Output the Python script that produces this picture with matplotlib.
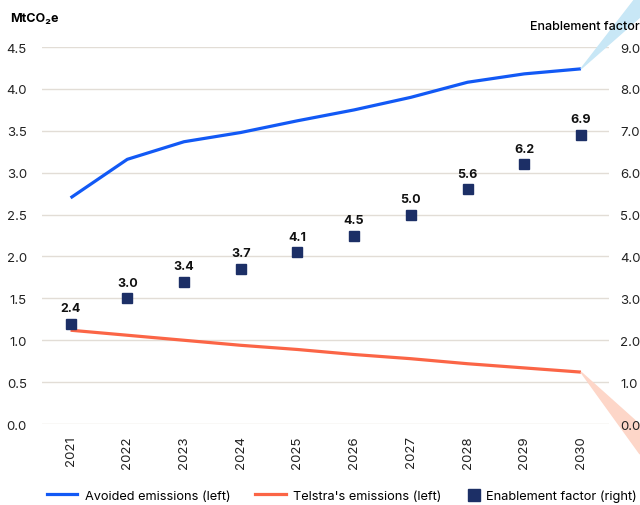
import matplotlib.pyplot as plt
from matplotlib.patches import Polygon
from matplotlib.lines import Line2D

plt.rcParams['font.family'] = ['Inter', 'DejaVu Sans']

years = [2021, 2022, 2023, 2024, 2025, 2026, 2027, 2028, 2029, 2030]
avoided = [2.70, 3.16, 3.37, 3.48, 3.62, 3.75, 3.90, 4.08, 4.18, 4.24]
telstra = [1.12, 1.06, 1.00, 0.94, 0.89, 0.83, 0.78, 0.72, 0.67, 0.62]
enablement = [2.4, 3.0, 3.4, 3.7, 4.1, 4.5, 5.0, 5.6, 6.2, 6.9]

left_ticks = [0.0, 0.5, 1.0, 1.5, 2.0, 2.5, 3.0, 3.5, 4.0, 4.5]
right_ticks = [0.0, 1.0, 2.0, 3.0, 4.0, 5.0, 6.0, 7.0, 8.0, 9.0]

blue = '#1259f5'
orange = '#fb6546'
navy = '#1c2f66'
grid = '#e2ddd6'

fig = plt.figure(figsize=(6.4, 5.06), dpi=100)
ax = fig.add_axes([0.066, 0.160, 0.886, 0.745])
ax2 = ax.twinx()
ax.set_zorder(0)
ax2.set_zorder(2)
ax2.patch.set_visible(False)

ax.set_xlim(2020.5, 2030.5)
ax.set_ylim(0, 4.5)
ax2.set_ylim(0, 9.0)

ax.set_yticks(left_ticks)
ax.set_yticklabels([f'{v:.1f}' for v in left_ticks])
ax2.set_yticks(right_ticks)
ax2.set_yticklabels([f'{v:.1f}' for v in right_ticks])
ax.set_xticks(years)
ax.set_xticklabels([str(y) for y in years], rotation=90)

ax.grid(axis='y', color=grid, lw=1.0)
ax.set_axisbelow(True)
for a in (ax, ax2):
    for s in a.spines.values():
        s.set_visible(False)
    a.tick_params(length=0, labelsize=9.5, colors='#222222')
ax.tick_params(axis='y', pad=11)
ax.tick_params(axis='x', pad=8)
ax2.tick_params(axis='y', pad=8)

# decorative wedges anchored at last points, drawn between the two axes
inv = fig.transFigure.inverted()
W, H = fig.get_size_inches() * fig.dpi
bx, by = inv.transform(ax.transData.transform((years[-1], avoided[-1])))
ox, oy = inv.transform(ax.transData.transform((years[-1], telstra[-1])))
fig.patches.append(Polygon([(bx, by), (635 / W, 1.0), (1.0, 1.0), (1.0, 1 - 18 / H)],
                           closed=True, transform=fig.transFigure, color='#c8e7f6', zorder=1))
fig.patches.append(Polygon([(ox, oy), (1.0, 1 - 426 / H), (1.0, 1 - 455 / H)],
                           closed=True, transform=fig.transFigure, color='#fdd6c8', zorder=1))

ax.plot(years, avoided, color=blue, lw=2.3, solid_capstyle='butt', zorder=3)
ax.plot(years, telstra, color=orange, lw=2.3, solid_capstyle='butt', zorder=3)
ax2.plot(years, enablement, ls='none', marker='s', ms=7, color=navy, zorder=4)
for x, v in zip(years, enablement):
    ax2.annotate(f'{v:.1f}', (x, v), xytext=(0, 7), textcoords='offset points',
                 ha='center', va='bottom', fontsize=9, fontweight='bold', color='#111111')

fig.text(0.016, 0.963, 'MtCO\u2082e', fontsize=9, fontweight='bold', ha='left', va='center')
fig.text(1.0, 0.946, 'Enablement factor', fontsize=9, fontweight='medium', ha='right', va='center',
         zorder=3)

# legend in two pieces so the square sits close to its label
line_handles = [Line2D([], [], color=blue, lw=2.3),
                Line2D([], [], color=orange, lw=2.3)]
line_labels = ['Avoided emissions (left)', "Telstra's emissions (left)"]
fig.legend(line_handles, line_labels, loc='center left', bbox_to_anchor=(0.073, 0.018),
           ncol=2, frameon=False, fontsize=9.2, handlelength=2.4, columnspacing=1.9,
           handletextpad=0.6, borderaxespad=0, borderpad=0)
sq_handle = [Line2D([], [], ls='none', marker='s', ms=8, color=navy)]
fig.legend(sq_handle, ['Enablement factor (right)'], loc='center left',
           bbox_to_anchor=(0.733, 0.018), frameon=False, fontsize=9.2, handlelength=0.8,
           handletextpad=0.55, borderaxespad=0, borderpad=0)

fig.savefig('out.png', dpi=100)
